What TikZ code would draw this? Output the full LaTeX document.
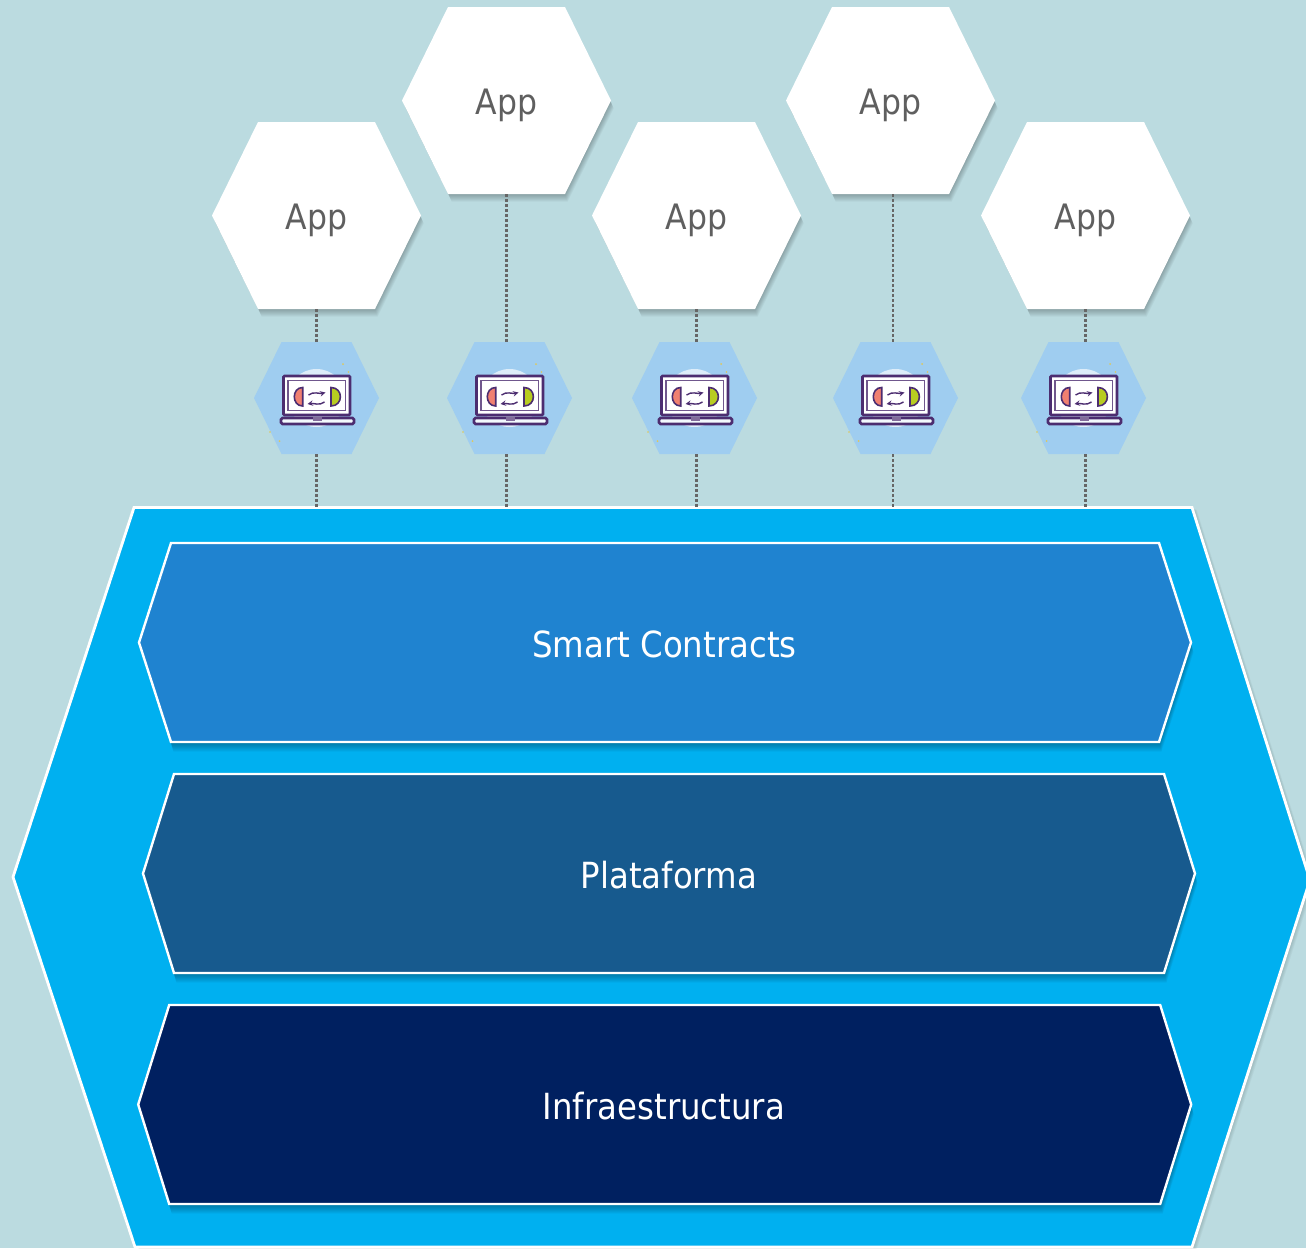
\documentclass[tikz,border=0pt]{standalone}
\usepackage{fontspec}
\setmainfont{DejaVu Sans Condensed}
\usetikzlibrary{positioning,calc}
\definecolor{bgblue}{RGB}{187,219,224}
\definecolor{stackblue}{RGB}{0,176,240}
\definecolor{smartblue}{RGB}{31,131,208}
\definecolor{platblue}{RGB}{23,90,142}
\definecolor{infrablue}{RGB}{0,32,96}
\definecolor{iconblue}{RGB}{159,205,240}
\definecolor{applabel}{RGB}{95,95,95}
\definecolor{laptoppurple}{RGB}{76,45,112}
\definecolor{halfred}{RGB}{240,128,112}
\definecolor{halfgreen}{RGB}{184,204,32}
\definecolor{sparkyellow}{RGB}{222,200,90}
\newcommand{\hexpath}[3]{(-#1,0) -- (-#2,-#3) -- (#2,-#3) -- (#1,0) -- (#2,#3) -- (-#2,#3) -- cycle}
\newcommand{\stackpath}{(13,877) -- (134,507.5) -- (1192,507.5) -- (1310,880) -- (1192,1247) -- (135,1247) -- cycle}
\tikzset{
    applabel/.style={text=applabel,font=\fontsize{35}{40}\selectfont,text height=35pt,text depth=7.4pt,minimum width=209pt,minimum height=187pt,inner sep=0pt},
    iconbox/.style={minimum width=125pt,minimum height=112pt,inner sep=0pt},
    barlabel/.style={text=white,font=\fontsize{36}{40}\selectfont,inner sep=0pt},
    barline/.style={draw=white,line width=2.4pt,line join=miter},
    link/.style={draw=black!60,line width=2.6pt,dash pattern=on 2.8pt off 2.2pt},
    softshadow/.style={black,opacity=.035},
    pics/laptop/.style={code={
        \fill[iconblue] \hexpath{62.5}{35}{56};
        \fill[white,opacity=.65] (0,0) circle (29);
        \fill[sparkyellow] (26.5,-34) circle (1) (32,-26) circle (.8) (-46.5,34) circle (.8) (-37,43) circle (1);
        \draw[laptoppurple,line width=2.6pt,fill=white,rounded corners=1pt] (-33,-22) rectangle (33.5,17);
        \draw[laptoppurple!80,line width=1.8pt] (-28.5,-17.5) rectangle (29,12.5);
        \draw[laptoppurple,line width=2.6pt,fill=white!88!iconblue,rounded corners=1.5pt] (-35.5,20) rectangle (37.5,26);
        \fill[laptoppurple!70] (-4,19) rectangle (5.5,23);
        \draw[laptoppurple,line width=1.6pt,fill=halfred] (-13.8,-10.5) .. controls (-25,-10.5) and (-25,8) .. (-13.8,8) -- cycle;
        \draw[laptoppurple,line width=1.6pt,fill=halfgreen] (14.5,-10.5) .. controls (27,-10.5) and (27,8) .. (14.5,8) -- cycle;
        \draw[laptoppurple,line width=1.4pt,-stealth] (-8,-3) .. controls (-3,-7) and (3,-4) .. (9,-5.5);
        \draw[laptoppurple,line width=1.4pt,-stealth] (8,4) .. controls (3,8) and (-3,5) .. (-9,6);
    }}
}
\begin{document}
\begin{tikzpicture}[x=1pt,y=-1pt]
    \useasboundingbox (0,0) rectangle (1306,1248);
    \fill[bgblue] (0,0) rectangle (1306,1248);

    % apps
    \foreach \n/\x/\y in {1/316.5/215.5,2/506.5/100.5,3/696.5/215.5,4/890.5/100.5,5/1085.5/215.5}{
        \begin{scope}[shift={(\x,\y)}]
            \foreach \d in {1,2,3,4,5,6,7,8}{
                \fill[softshadow,xshift=.4*\d pt,yshift=-\d pt] \hexpath{104}{58}{93};
            }
            \fill[white] \hexpath{104.5}{58.5}{93.5};
        \end{scope}
        \node[applabel] (app\n) at (\x,\y) {App};
    }

    % icons
    \foreach \n/\x in {1/316.5,2/509.5,3/694.5,4/895.5,5/1083.5}{
        \pic at (\x,398) {laptop};
        \node[iconbox] (icon\n) at (\x,398) {};
    }

    % stack
    \foreach \d in {1,2,3,4,5,6,7,8}{
        \fill[softshadow,opacity=.025,xshift=.6*\d pt,yshift=-.3*\d pt] \stackpath;
    }
    \path[fill=stackblue,draw=white,line width=2.8pt] \stackpath;
    \node[minimum width=1058pt,minimum height=740pt,inner sep=0pt] (stack) at (663,877.5) {};

    % ports on the stack
    \foreach \n/\x in {1/316.5,2/506.5,3/696.5,4/893,5/1085.5}{
        \coordinate (port\n) at (\x,507);
        \draw[link] (port\n |- app\n.south) -- (port\n |- icon\n.north);
        \draw[link] (port\n |- icon\n.south) -- (port\n);
    }

    % layers
    \foreach \n/\x/\y/\w/\h/\c/\t/\lx/\ly in {
        smart/665/642.5/526/494/smartblue/Smart Contracts/664.5/644.5,
        plat/669/873.5/526/495/platblue/Plataforma/669/875.5,
        infra/664.7/1104.5/526.5/495.5/infrablue/Infraestructura/664/1106.5}{
        \begin{scope}[shift={(\x,\y)}]
            \foreach \d in {1,2,3,4,5,6,7,8,9,10}{
                \fill[softshadow,xshift=.25*\d pt,yshift=-\d pt] \hexpath{\w}{\h}{99};
            }
            \path[barline,fill=\c] \hexpath{\w}{\h}{99.5};
        \end{scope}
        \node[barlabel] (\n) at (\lx,\ly) {\t};
    }
\end{tikzpicture}
\end{document}
